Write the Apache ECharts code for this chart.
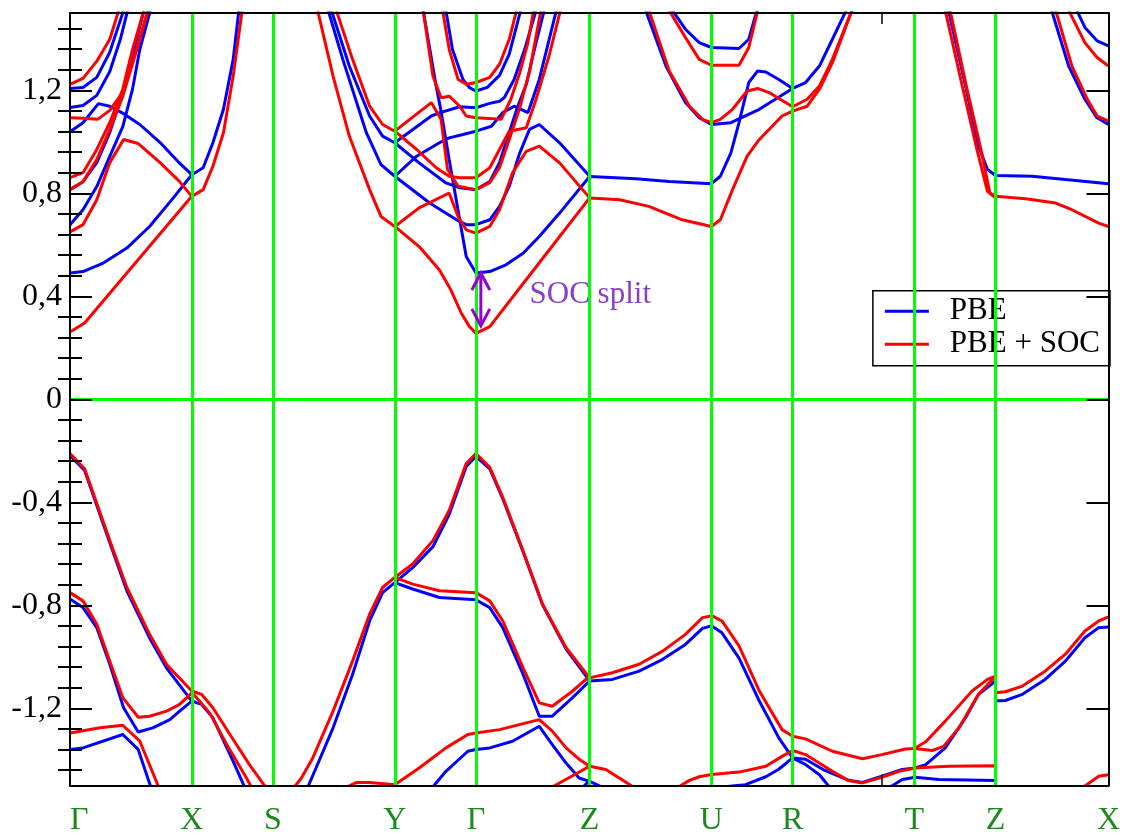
<!DOCTYPE html>
<html><head><meta charset="utf-8">
<script src="https://cdn.jsdelivr.net/npm/echarts@6/dist/echarts.min.js"></script>
<style>html,body{margin:0;padding:0;background:#fff}#c{width:1123px;height:839px}</style>
</head><body><div id="c"></div>
<script>
// high-symmetry k-points (path coordinate) and their labels
const kPoints = [0, 0.150, 0.250, 0.400, 0.500, 0.640, 0.790, 0.890, 1.040, 1.140, 1.279];
const kLabels = ['Γ','X','S','Y','Γ','Z','U','R','T','Z','X'];
const yMajorTicks = [-1.2, -0.8, -0.4, 0, 0.4, 0.8, 1.2];
const xTicks = [1.0];

// PBE bands, conduction region: [k, E(eV)]
const pbeConduction = [
 [[0,0.490],[0.016,0.496],[0.041,0.529],[0.070,0.587],[0.098,0.671],[0.127,0.781],[0.150,0.872],[0.164,0.899],[0.176,0.996],[0.189,1.126],[0.201,1.320],[0.208,1.51]],
 [[0,1.039],[0.016,1.074],[0.035,1.148],[0.049,1.138],[0.066,1.109],[0.086,1.067],[0.111,0.997],[0.133,0.923],[0.150,0.872]],
 [[0,1.133],[0.016,1.141],[0.033,1.180],[0.049,1.273],[0.062,1.398],[0.071,1.51]],
 [[0,1.207],[0.016,1.211],[0.033,1.250],[0.049,1.348],[0.066,1.51]],
 [[0,0.814],[0.016,0.845],[0.033,0.919],[0.049,1.036],[0.065,1.192],[0.082,1.398],[0.091,1.51]],
 [[0,0.678],[0.016,0.736],[0.033,0.826],[0.049,0.943],[0.065,1.059],[0.077,1.204],[0.086,1.359],[0.099,1.51]],
 [[0.318,1.51],[0.336,1.320],[0.365,1.035],[0.383,0.911],[0.400,0.866],[0.443,0.762],[0.476,0.697],[0.488,0.678],[0.500,0.678],[0.517,0.697],[0.529,0.749],[0.541,0.827],[0.554,0.957],[0.566,1.048],[0.578,1.067],[0.603,0.996],[0.640,0.866]],
 [[0.322,1.51],[0.344,1.294],[0.369,1.100],[0.385,1.022],[0.400,0.996],[0.430,0.918],[0.463,0.840],[0.480,0.821],[0.500,0.814],[0.517,0.845],[0.529,0.919],[0.541,1.036],[0.551,1.133],[0.562,1.223],[0.572,1.359],[0.584,1.51]],
 [[0.400,0.996],[0.445,1.100],[0.455,1.112],[0.480,1.136],[0.500,1.132],[0.517,1.149],[0.529,1.157],[0.535,1.172],[0.547,1.242],[0.560,1.359],[0.574,1.51]],
 [[0.400,0.866],[0.427,0.944],[0.455,0.996],[0.467,1.015],[0.484,1.028],[0.500,1.041],[0.519,1.060],[0.533,1.113],[0.547,1.138],[0.564,1.113],[0.578,1.242],[0.599,1.51]],
 [[0.435,1.51],[0.451,1.216],[0.457,1.119],[0.467,0.931],[0.480,0.697],[0.488,0.554],[0.500,0.490],[0.517,0.496],[0.537,0.522],[0.558,0.567],[0.578,0.632],[0.603,0.723],[0.640,0.865],[0.697,0.856],[0.738,0.846],[0.790,0.837],[0.801,0.866],[0.814,0.957],[0.824,1.074],[0.836,1.230],[0.847,1.275],[0.857,1.271],[0.873,1.242],[0.890,1.207],[0.906,1.230],[0.923,1.294],[0.939,1.398],[0.956,1.51]],
 [[0.463,1.51],[0.471,1.359],[0.484,1.242],[0.492,1.210],[0.500,1.197],[0.514,1.211],[0.529,1.258],[0.541,1.340],[0.555,1.51]],
 [[0.709,1.51],[0.734,1.294],[0.758,1.152],[0.775,1.093],[0.790,1.067],[0.814,1.074],[0.849,1.126],[0.890,1.207]],
 [[0.742,1.51],[0.758,1.437],[0.775,1.385],[0.790,1.366],[0.824,1.362],[0.836,1.398],[0.846,1.51]],
 [[1.082,1.51],[1.103,1.216],[1.119,0.983],[1.130,0.892],[1.140,0.869],[1.185,0.866],[1.226,0.853],[1.279,0.837]],
 [[1.209,1.51],[1.230,1.294],[1.250,1.165],[1.265,1.093],[1.279,1.067]],
 [[1.240,1.51],[1.250,1.444],[1.265,1.392],[1.279,1.372]]
];

// PBE bands, valence region
const pbeValence = [
 [[0,-0.218],[0.018,-0.277],[0.049,-0.557],[0.070,-0.744],[0.098,-0.927],[0.119,-1.044],[0.150,-1.172],[0.162,-1.185],[0.176,-1.237],[0.201,-1.406],[0.217,-1.52]],
 [[0,-0.776],[0.016,-0.809],[0.033,-0.887],[0.049,-1.029],[0.066,-1.198],[0.084,-1.292],[0.102,-1.276],[0.123,-1.244],[0.135,-1.211],[0.150,-1.172]],
 [[0,-1.360],[0.016,-1.354],[0.065,-1.302],[0.084,-1.360],[0.101,-1.52]],
 [[0.291,-1.52],[0.303,-1.432],[0.324,-1.276],[0.348,-1.069],[0.369,-0.861],[0.385,-0.751],[0.400,-0.712],[0.422,-0.654],[0.447,-0.573],[0.467,-0.448],[0.488,-0.261],[0.500,-0.222],[0.517,-0.270],[0.533,-0.386],[0.558,-0.592],[0.582,-0.798],[0.611,-0.970],[0.640,-1.094],[0.668,-1.088],[0.701,-1.056],[0.730,-1.010],[0.758,-0.952],[0.779,-0.890],[0.790,-0.880],[0.803,-0.907],[0.824,-1.005],[0.849,-1.172],[0.873,-1.315],[0.890,-1.393],[0.906,-1.419],[0.923,-1.458],[0.939,-1.52]],
 [[0.400,-0.712],[0.422,-0.737],[0.455,-0.770],[0.500,-0.779],[0.517,-0.809],[0.533,-0.887],[0.558,-1.068],[0.578,-1.231],[0.594,-1.231],[0.619,-1.159],[0.640,-1.094]],
 [[0.443,-1.52],[0.463,-1.445],[0.490,-1.367],[0.500,-1.360],[0.517,-1.354],[0.545,-1.328],[0.578,-1.270],[0.594,-1.341],[0.611,-1.413],[0.627,-1.471],[0.640,-1.484],[0.665,-1.52]],
 [[0.627,-1.52],[0.640,-1.481]],
 [[0.790,-1.51],[0.832,-1.497],[0.857,-1.466],[0.873,-1.437],[0.890,-1.393],[0.906,-1.398],[0.927,-1.437],[0.959,-1.480],[0.976,-1.488],[1.000,-1.464],[1.025,-1.438],[1.041,-1.432],[1.054,-1.419],[1.078,-1.354],[1.103,-1.237],[1.119,-1.146],[1.140,-1.094],[1.140,-1.172],[1.152,-1.170],[1.173,-1.146],[1.201,-1.088],[1.226,-1.017],[1.250,-0.926],[1.267,-0.887],[1.279,-0.884]],
 [[1.003,-1.52],[1.025,-1.477],[1.041,-1.468],[1.070,-1.477],[1.140,-1.481]]
];

// PBE + SOC bands, conduction region
const socConduction = [
 [[0,1.223],[0.016,1.246],[0.033,1.313],[0.049,1.398],[0.060,1.51]],
 [[0,1.093],[0.016,1.091],[0.034,1.087],[0.049,1.122],[0.065,1.193],[0.082,1.359],[0.096,1.51]],
 [[0,0.861],[0.016,0.880],[0.033,0.970],[0.049,1.075],[0.065,1.204],[0.077,1.359],[0.091,1.51]],
 [[0,0.814],[0.016,0.845],[0.033,0.931],[0.049,1.048],[0.065,1.176],[0.086,1.398],[0.096,1.51]],
 [[0,0.650],[0.016,0.678],[0.033,0.775],[0.049,0.919],[0.066,1.009],[0.084,0.993],[0.111,0.919],[0.135,0.845],[0.150,0.788],[0.164,0.814],[0.176,0.905],[0.189,1.035],[0.201,1.255],[0.212,1.51]],
 [[0,0.261],[0.018,0.296],[0.150,0.788]],
 [[0.305,1.51],[0.324,1.255],[0.344,1.022],[0.369,0.814],[0.383,0.710],[0.400,0.671],[0.430,0.593],[0.455,0.502],[0.469,0.425],[0.482,0.334],[0.492,0.282],[0.500,0.256],[0.517,0.282],[0.578,0.530],[0.640,0.782],[0.677,0.775],[0.713,0.749],[0.754,0.697],[0.790,0.671],[0.801,0.697],[0.816,0.814],[0.834,0.944],[0.849,1.009],[0.877,1.100],[0.890,1.119],[0.908,1.138],[0.923,1.204],[0.939,1.307],[0.963,1.51]],
 [[0.328,1.51],[0.348,1.320],[0.369,1.138],[0.385,1.067],[0.400,1.041],[0.427,0.970],[0.451,0.899],[0.467,0.866],[0.480,0.860],[0.500,0.860],[0.517,0.899],[0.529,0.970],[0.541,1.041],[0.562,1.054],[0.574,1.165],[0.590,1.333],[0.604,1.51]],
 [[0.400,0.671],[0.430,0.743],[0.467,0.801],[0.478,0.710],[0.488,0.658],[0.500,0.645],[0.517,0.671],[0.529,0.736],[0.545,0.879],[0.562,0.963],[0.578,0.983],[0.603,0.918],[0.640,0.782]],
 [[0.400,1.041],[0.445,1.152],[0.457,1.087],[0.465,0.892],[0.478,0.827],[0.500,0.814],[0.517,0.841],[0.529,0.900],[0.541,1.009],[0.554,1.133],[0.566,1.273],[0.580,1.51]],
 [[0.435,1.51],[0.447,1.255],[0.457,1.171],[0.467,1.177],[0.480,1.138],[0.488,1.100],[0.500,1.093],[0.531,1.087],[0.543,1.165],[0.554,1.269],[0.564,1.385],[0.571,1.51]],
 [[0.459,1.51],[0.467,1.359],[0.478,1.242],[0.488,1.223],[0.500,1.230],[0.517,1.250],[0.529,1.301],[0.541,1.398],[0.550,1.51]],
 [[0.713,1.51],[0.738,1.275],[0.763,1.138],[0.779,1.087],[0.790,1.074],[0.801,1.087],[0.816,1.126],[0.834,1.197],[0.847,1.207],[0.861,1.191],[0.890,1.136],[0.908,1.165],[0.923,1.216],[0.939,1.320],[0.963,1.51]],
 [[0.738,1.51],[0.758,1.405],[0.775,1.320],[0.790,1.297],[0.824,1.297],[0.836,1.366],[0.847,1.51]],
 [[1.078,1.51],[1.099,1.216],[1.117,0.970],[1.130,0.807],[1.140,0.788],[1.177,0.779],[1.214,0.762],[1.234,0.736],[1.267,0.684],[1.279,0.671]],
 [[1.084,1.51],[1.104,1.216],[1.122,0.970],[1.133,0.800],[1.140,0.782]],
 [[1.214,1.51],[1.234,1.294],[1.253,1.165],[1.265,1.100],[1.279,1.080]],
 [[1.230,1.51],[1.250,1.385],[1.265,1.327],[1.279,1.294]]
];

// PBE + SOC bands, valence region
const socValence = [
 [[0,-0.211],[0.018,-0.270],[0.049,-0.549],[0.070,-0.731],[0.098,-0.913],[0.119,-1.030],[0.150,-1.133],[0.162,-1.146],[0.176,-1.198],[0.197,-1.302],[0.221,-1.419],[0.244,-1.52]],
 [[0,-0.751],[0.016,-0.783],[0.033,-0.874],[0.049,-1.017],[0.065,-1.159],[0.084,-1.235],[0.098,-1.231],[0.119,-1.211],[0.135,-1.185],[0.150,-1.140],[0.156,-1.159],[0.172,-1.218],[0.193,-1.341],[0.215,-1.458],[0.226,-1.52]],
 [[0,-1.296],[0.037,-1.276],[0.065,-1.266],[0.086,-1.328],[0.111,-1.52]],
 [[0.273,-1.52],[0.285,-1.471],[0.299,-1.393],[0.324,-1.211],[0.348,-1.017],[0.369,-0.835],[0.385,-0.731],[0.400,-0.692],[0.422,-0.640],[0.447,-0.549],[0.467,-0.432],[0.488,-0.250],[0.500,-0.211],[0.517,-0.264],[0.533,-0.381],[0.558,-0.588],[0.582,-0.796],[0.611,-0.965],[0.640,-1.082],[0.668,-1.062],[0.701,-1.029],[0.730,-0.978],[0.758,-0.913],[0.779,-0.848],[0.791,-0.841],[0.803,-0.861],[0.824,-0.958],[0.849,-1.133],[0.877,-1.283],[0.890,-1.309],[0.906,-1.319],[0.939,-1.367],[0.976,-1.396],[1.000,-1.380],[1.029,-1.358],[1.040,-1.356],[1.054,-1.330],[1.078,-1.250],[1.111,-1.133],[1.130,-1.088],[1.140,-1.075],[1.140,-1.140],[1.152,-1.136],[1.173,-1.114],[1.201,-1.056],[1.226,-0.990],[1.250,-0.900],[1.267,-0.861],[1.279,-0.845]],
 [[1.040,-1.356],[1.062,-1.364],[1.076,-1.348],[1.095,-1.276],[1.119,-1.146],[1.138,-1.082]],
 [[0.400,-0.692],[0.422,-0.718],[0.455,-0.744],[0.500,-0.751],[0.517,-0.783],[0.533,-0.861],[0.558,-1.043],[0.578,-1.179],[0.594,-1.192],[0.619,-1.133],[0.640,-1.075]],
 [[0.332,-1.52],[0.353,-1.488],[0.369,-1.488],[0.400,-1.497],[0.430,-1.432],[0.463,-1.354],[0.490,-1.302],[0.500,-1.296],[0.529,-1.283],[0.578,-1.244],[0.594,-1.289],[0.611,-1.354],[0.627,-1.398],[0.640,-1.425],[0.660,-1.438],[0.701,-1.52]],
 [[0.586,-1.52],[0.640,-1.425]],
 [[0.742,-1.52],[0.763,-1.480],[0.775,-1.466],[0.790,-1.457],[0.824,-1.448],[0.857,-1.425],[0.877,-1.387],[0.890,-1.364],[0.906,-1.380],[0.939,-1.445],[0.959,-1.481],[0.976,-1.490],[1.000,-1.468],[1.021,-1.445],[1.041,-1.432],[1.082,-1.425],[1.140,-1.423],[1.140,-1.52]],
 [[1.242,-1.52],[1.267,-1.464],[1.279,-1.458]]
];

// annotation: SOC splitting arrow at Γ and its label
const socArrow = [[0.506, 0.490, 0.285]];
const socLabel = [[0.566, 0.405, 'SOC split']];

const SERIF = '"Liberation Serif", "Times New Roman", serif';
const BLUE = '#0000ff', RED = '#ff0000', GREEN = '#00ff00', VIOLET = '#9400d3';

function bandSeries(name, color, bands, z) {
  return bands.map(b => ({
    name: name, type: 'line', data: b, showSymbol: false, symbol: 'none',
    lineStyle: { color: color, width: 3 }, itemStyle: { color: color },
    z: z, silent: true, animation: false, emphasis: { disabled: true }, clip: true
  }));
}

const minorTicks = [];
for (let i = -18; i <= 18; i++) { if (i % 5 !== 0) minorTicks.push(+(i * 0.08).toFixed(2)); }

const chart = echarts.init(document.getElementById('c'), null, { renderer: 'canvas' });
const yCommon = { type: 'value', min: -1.5, max: 1.5, splitLine: { show: false }, z: 10 };
const option = {
  backgroundColor: '#fff',
  animation: false,
  grid: { left: 70, right: 13, top: 13, bottom: 53.5, containLabel: false },
  legend: {
    data: ['PBE', 'PBE + SOC'], orient: 'vertical', right: 13, top: 290.7,
    backgroundColor: '#fff', borderColor: '#000', borderWidth: 1.5,
    padding: [5, 10, 6, 12], itemGap: 2, itemWidth: 44, itemHeight: 3, icon: 'rect',
    textStyle: { fontFamily: SERIF, fontSize: 31, color: '#000', padding: [0, 0, 0, 16], lineHeight: 30 },
    selectedMode: false
  },
  xAxis: [
    { type: 'value', position: 'bottom', min: 0, max: 1.279, splitLine: { show: false }, z: 10,
      axisLine: { show: true, onZero: false, lineStyle: { color: '#000', width: 2 } },
      axisTick: { show: true, inside: true, length: 11, customValues: xTicks, lineStyle: { color: '#000', width: 1.5 } },
      axisLabel: { show: true, customValues: kPoints, margin: 19, color: '#1a8a1a', fontFamily: SERIF, fontSize: 32,
        alignMinLabel: 'left',
        formatter: v => { let bi = 0, bd = 1e9; kPoints.forEach((k, i) => { const d = Math.abs(k - v); if (d < bd) { bd = d; bi = i; } }); return kLabels[bi]; } } },
    { type: 'value', position: 'top', min: 0, max: 1.279, splitLine: { show: false }, z: 10,
      axisLine: { show: true, onZero: false, lineStyle: { color: '#000', width: 2 } },
      axisTick: { show: true, inside: true, length: 11, customValues: xTicks, lineStyle: { color: '#000', width: 1.5 } },
      axisLabel: { show: false } }
  ],
  yAxis: [
    Object.assign({}, yCommon, { position: 'left',
      axisLine: { show: true, onZero: false, lineStyle: { color: '#000', width: 2 } },
      axisTick: { show: true, inside: true, length: 22, customValues: yMajorTicks, lineStyle: { color: '#000', width: 2 } },
      axisLabel: { show: true, customValues: yMajorTicks, margin: 8, color: '#000', fontFamily: SERIF, fontSize: 32,
        formatter: v => String(Math.round(v * 10) / 10).replace('.', ',') } }),
    Object.assign({}, yCommon, { position: 'left',
      axisLine: { show: false },
      axisTick: { show: true, inside: true, length: 12, customValues: minorTicks, lineStyle: { color: '#000', width: 2 } },
      axisLabel: { show: false } }),
    Object.assign({}, yCommon, { position: 'right',
      axisLine: { show: true, onZero: false, lineStyle: { color: '#000', width: 2 } },
      axisTick: { show: true, inside: true, length: 22, customValues: yMajorTicks, lineStyle: { color: '#000', width: 2 } },
      axisLabel: { show: false } }),
    Object.assign({}, yCommon, { position: 'right',
      axisLine: { show: false },
      axisTick: { show: true, inside: true, length: 12, customValues: minorTicks, lineStyle: { color: '#000', width: 2 } },
      axisLabel: { show: false } })
  ],
  series: [].concat(
    [{ type: 'line', data: [], silent: true, z: 1,
       markLine: { silent: true, symbol: 'none', animation: false,
         lineStyle: { color: GREEN, width: 3, type: 'solid' }, label: { show: false },
         data: kPoints.slice(1, -1).map(k => ({ xAxis: k })).concat([{ yAxis: 0 }]) } }],
    bandSeries('PBE', BLUE, pbeConduction.concat(pbeValence), 2),
    bandSeries('PBE + SOC', RED, socConduction.concat(socValence), 3),
    [{ type: 'custom', silent: true, z: 5, data: socArrow,
       renderItem: (params, api) => {
         const a = api.coord([api.value(0), api.value(1)]);
         const b = api.coord([api.value(0), api.value(2)]);
         const w = 9, h = 17, st = { stroke: VIOLET, lineWidth: 3, fill: null };
         return { type: 'group', children: [
           { type: 'line', shape: { x1: a[0], y1: a[1], x2: b[0], y2: b[1] }, style: st },
           { type: 'polyline', shape: { points: [[a[0] - w, a[1] + h], [a[0], a[1]], [a[0] + w, a[1] + h]] }, style: st },
           { type: 'polyline', shape: { points: [[b[0] - w, b[1] - h], [b[0], b[1]], [b[0] + w, b[1] - h]] }, style: st }
         ] };
       } },
     { type: 'custom', silent: true, z: 5, data: socLabel,
       renderItem: (params, api) => {
         const p = api.coord([api.value(0), api.value(1)]);
         return { type: 'text', x: p[0], y: p[1],
           style: { text: socLabel[params.dataIndex][2], fill: '#8a3fc9', fontFamily: SERIF, fontSize: 31,
                    align: 'left', verticalAlign: 'middle' } };
       } }]
  )
};
chart.setOption(option);
</script>
</body></html>
